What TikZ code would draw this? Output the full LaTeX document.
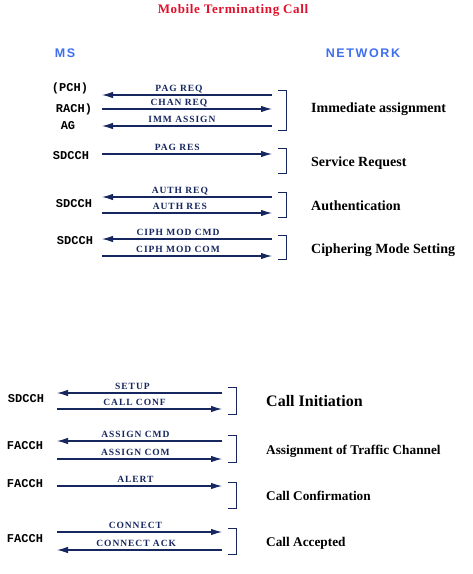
\documentclass[tikz,border=0pt]{standalone}
\usepackage{fontspec}
\setmainfont{Liberation Serif}
\newfontfamily\msgfont[LetterSpace=10]{Liberation Serif}
\newfontfamily\titlefont[LetterSpace=5]{Liberation Serif}
\newfontfamily\sidefont[LetterSpace=13]{Liberation Sans}
\newfontfamily\chfont{Liberation Mono}
\usetikzlibrary{arrows.meta}
\definecolor{msgnavy}{HTML}{16265F}
\definecolor{sideblue}{HTML}{3F6FEF}
\definecolor{titlered}{HTML}{E0102A}

\begin{document}
\begin{tikzpicture}[
    x=1pt, y=-1pt,
    >={Latex[length=11pt,width=6.5pt]},
    msg/.style={msgnavy, line width=1.1pt},
    brk/.style={msgnavy, line width=1pt},
    lbl/.style={font=\msgfont\bfseries\fontsize{9.5}{10}\selectfont, text=msgnavy,
                inner sep=0pt, anchor=base, yshift=3.5pt},
    chan/.style={font=\chfont\bfseries\fontsize{12}{12}\selectfont, inner sep=0pt, anchor=base},
    phase/.style={font=\bfseries\fontsize{14}{14}\selectfont, inner sep=0pt, anchor=base west},
    phasesm/.style={font=\bfseries\fontsize{13.3}{14}\selectfont, inner sep=0pt, anchor=base west},
    side/.style={font=\sidefont\bfseries\fontsize{12.5}{13}\selectfont, text=sideblue,
                 inner sep=0pt, anchor=base}
]

\useasboundingbox (0,0) rectangle (473,574);

% Titol i extrems
\node[font=\titlefont\bfseries\fontsize{13}{14}\selectfont, text=titlered,
      inner sep=0pt, anchor=base] (title) at (233,13.5) {Mobile Terminating Call};
\node[side] (ms) at (65,57.4) {MS};
\node[side] (net) at (363,57.4) {NETWORK};

% Canals
\node[chan] (ch1) at (70,91.5) {(PCH)};
\node[chan] (ch2) at (74,112) {RACH)};
\node[chan] (ch3) at (68,129.3) {AG};
\node[chan] (ch4) at (71,159.5) {SDCCH};
\node[chan] (ch5) at (74,207.5) {SDCCH};
\node[chan] (ch6) at (75,244.5) {SDCCH};
\node[chan] (ch7) at (26,402.5) {SDCCH};
\node[chan] (ch8) at (25,449.5) {FACCH};
\node[chan] (ch9) at (25,487.5) {FACCH};
\node[chan] (ch10) at (25,542.5) {FACCH};

% Extrems dels missatges
\foreach \i/\y in {1/95, 2/109, 3/126, 4/154, 5/197, 6/213, 7/239, 8/256} {
    \coordinate (m\i) at (102,\y);
    \coordinate (n\i) at (272,\y);
}
\foreach \i/\y in {9/393, 10/409, 11/441, 12/459, 13/486, 14/532, 15/550} {
    \coordinate (m\i) at (57,\y);
    \coordinate (n\i) at (222,\y);
}

% Missatges
\draw[msg, <-] (m1) -- (n1) node[lbl, pos=0.453] {PAG REQ};
\draw[msg, ->] (m2) -- (n2) node[lbl, pos=0.453] {CHAN REQ};
\draw[msg, <-] (m3) -- (n3) node[lbl, pos=0.47] {IMM ASSIGN};
\draw[msg, ->] (m4) -- (n4) node[lbl, pos=0.443] {PAG RES};
\draw[msg, <-] (m5) -- (n5) node[lbl, pos=0.458] {AUTH REQ};
\draw[msg, ->] (m6) -- (n6) node[lbl, pos=0.458] {AUTH RES};
\draw[msg, <-] (m7) -- (n7) node[lbl, pos=0.447] {CIPH MOD CMD};
\draw[msg, ->] (m8) -- (n8) node[lbl, pos=0.447] {CIPH MOD COM};

\draw[msg, <-] (m9) -- (n9) node[lbl, pos=0.457] {SETUP};
\draw[msg, ->] (m10) -- (n10) node[lbl, pos=0.47] {CALL CONF};
\draw[msg, <-] (m11) -- (n11) node[lbl, pos=0.475] {ASSIGN CMD};
\draw[msg, ->] (m12) -- (n12) node[lbl, pos=0.475] {ASSIGN COM};
\draw[msg, ->] (m13) -- (n13) node[lbl, pos=0.475] {ALERT};
\draw[msg, ->] (m14) -- (n14) node[lbl, pos=0.475] {CONNECT};
\draw[msg, <-] (m15) -- (n15) node[lbl, pos=0.48] {CONNECT ACK};

% Claudators
\draw[brk] (278,90) -- (286,90) -- (286,130) -- (278,130);
\draw[brk] (278,148) -- (286,148) -- (286,173) -- (278,173);
\draw[brk] (278,192) -- (286,192) -- (286,217) -- (278,217);
\draw[brk] (278,235) -- (286,235) -- (286,259) -- (278,259);
\draw[brk] (228,387) -- (236,387) -- (236,414) -- (228,414);
\draw[brk] (228,435) -- (236,435) -- (236,462) -- (228,462);
\draw[brk] (228,482) -- (236,482) -- (236,508) -- (228,508);
\draw[brk] (228,528) -- (236,528) -- (236,554) -- (228,554);

% Fases
\node[phase] (ph1) at (311,112.7) {Immediate assignment};
\node[phase] (ph2) at (311,166.7) {Service Request};
\node[phase] (ph3) at (311,210.7) {Authentication};
\node[phase] (ph4) at (311,253.7) {Ciphering Mode Setting};
\node[phase, font=\bfseries\fontsize{16}{16}\selectfont] (ph5) at (266,406.3) {Call Initiation};
\node[phasesm] (ph6) at (266,454.5) {Assignment of Traffic Channel};
\node[phasesm] (ph7) at (266,500.5) {Call Confirmation};
\node[phasesm] (ph8) at (266,546.5) {Call Accepted};

\end{tikzpicture}
\end{document}
